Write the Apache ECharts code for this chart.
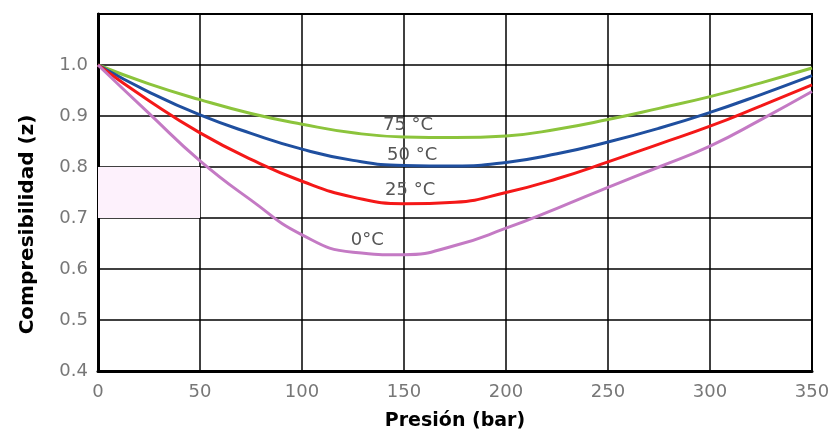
<!DOCTYPE html>
<html>
<head>
<meta charset="utf-8">
<script src="https://cdn.jsdelivr.net/npm/echarts@6/dist/echarts.min.js"></script>
<style>
  html, body { margin: 0; padding: 0; background: #fff; }
  #chart { width: 839px; height: 436px; }
</style>
</head>
<body>
<div id="chart"></div>
<script>
// presion (bar)
var presion = [0, 25, 50, 75, 100, 125, 150, 175, 200, 225, 250, 275, 300, 325, 350];

// compresibilidad z por temperatura
var z75 = [1.0, 0.963, 0.932, 0.905, 0.884, 0.867, 0.859, 0.858, 0.861, 0.874, 0.893, 0.915, 0.938, 0.965, 0.994];
var z50 = [1.0, 0.947, 0.902, 0.866, 0.835, 0.813, 0.803, 0.802, 0.809, 0.826, 0.849, 0.876, 0.907, 0.942, 0.979];
var z25 = [1.0, 0.930, 0.867, 0.815, 0.772, 0.741, 0.728, 0.731, 0.750, 0.777, 0.810, 0.845, 0.880, 0.920, 0.961];
var z0  = [1.0, 0.905, 0.812, 0.735, 0.667, 0.633, 0.628, 0.646, 0.680, 0.719, 0.760, 0.800, 0.841, 0.893, 0.948];

// etiquetas sobre las curvas: [texto, x, z]
var etiquetas = [
  ['75 °C', 152, 0.882],
  ['50 °C', 154, 0.822],
  ['25 °C', 153, 0.755],
  ['0°C', 132, 0.656]
];

var fuente = 'DejaVu Sans, Verdana, sans-serif';

function pares(ys) {
  return presion.map(function (x, i) { return [x, ys[i]]; });
}

function curva(nombre, ys, color, idx) {
  var e = etiquetas[idx];
  return {
    name: nombre,
    type: 'line',
    smooth: 0.5,
    symbol: 'none',
    lineStyle: { color: color, width: 3 },
    data: pares(ys),
    markPoint: {
      symbol: 'circle',
      symbolSize: 0,
      silent: true,
      label: {
        show: true,
        formatter: e[0],
        color: '#555',
        fontSize: 18,
        fontFamily: fuente
      },
      data: [{ coord: [e[1], e[2]] }]
    }
  };
}

var series = [
  curva('75', z75, '#8cc43c', 0),
  curva('50', z50, '#1f4f9f', 1),
  curva('25', z25, '#f41818', 2),
  curva('0', z0, '#c47ac4', 3)
];

// zona rosada tenue entre 0-50 bar y 0.7-0.8
series[3].markArea = {
  silent: true,
  itemStyle: { color: '#fdf1fc' },
  data: [[{ coord: [0, 0.7] }, { coord: [50, 0.8] }]]
};

var option = {
  animation: false,
  backgroundColor: '#fff',
  grid: {
    left: 98, right: 27, top: 14, bottom: 63,
    show: true, borderColor: '#000', borderWidth: 2
  },
  xAxis: {
    type: 'value',
    min: 0, max: 350, interval: 50,
    name: 'Presión (bar)',
    nameLocation: 'middle',
    nameGap: 41,
    nameTextStyle: { color: '#000', fontSize: 19, fontWeight: 'bold', fontFamily: fuente },
    axisLine: { show: true, lineStyle: { color: '#000', width: 3 } },
    axisTick: { show: false },
    axisLabel: { color: '#777', fontSize: 18, margin: 12, fontFamily: fuente },
    splitLine: { show: true, lineStyle: { color: '#000', width: 1.5 } }
  },
  yAxis: {
    type: 'value',
    min: 0.4, max: 1.1, interval: 0.1,
    name: 'Compresibilidad (z)',
    nameLocation: 'middle',
    nameGap: 60,
    nameTextStyle: { color: '#000', fontSize: 20, fontWeight: 'bold', fontFamily: fuente, padding: [0, 64, 0, 0] },
    axisLine: { show: true, lineStyle: { color: '#000', width: 3 } },
    axisTick: { show: false },
    axisLabel: {
      color: '#777', fontSize: 18, margin: 10,
      fontFamily: fuente,
      formatter: function (v) { return v > 1.05 ? '' : v.toFixed(1); }
    },
    splitLine: { show: true, lineStyle: { color: '#000', width: 1.5 } }
  },
  series: series
};

var chart = echarts.init(document.getElementById('chart'));
chart.setOption(option);
</script>
</body>
</html>
